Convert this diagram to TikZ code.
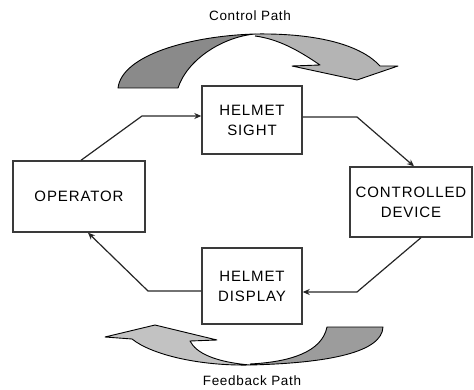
\documentclass[tikz,border=0pt]{standalone}
\usepackage{fontspec}
\setmainfont{Liberation Sans}
\usetikzlibrary{arrows.meta}
\definecolor{boxline}{HTML}{3A3A3A}
\definecolor{darkarr}{HTML}{8A8A8A}
\definecolor{lightarr}{HTML}{B4B4B4}
\definecolor{darkarrb}{HTML}{9C9C9C}
\definecolor{lightarrb}{HTML}{C2C2C2}
\tikzset{
  blk/.style={draw=boxline, line width=1.4pt, fill=white, align=center,
    font=\fontsize{15}{20}\selectfont\addfontfeature{LetterSpace=6}, inner sep=0pt},
  conn/.style={draw=black!85, line width=1.2pt, -{Stealth[length=7pt,width=6pt]}},
  bigarrow/.style={draw=black, line width=0.9pt, line join=round},
  lbl/.style={font=\fontsize{13.5}{16}\selectfont\addfontfeature{LetterSpace=5}, inner sep=0pt}
}
\begin{document}
\begin{tikzpicture}[x=1pt,y=-1pt]
\useasboundingbox (0,0) rectangle (474,390);

% curved arrows
\fill[darkarr] (118,88) .. controls (122,55) and (190,36) .. (255,34)
  .. controls (222,37) and (187,60) .. (178,88) -- cycle;
\draw[bigarrow] (118,88) .. controls (122,55) and (190,36) .. (255,34)
  .. controls (222,37) and (187,60) .. (178,88) -- cycle;
\fill[lightarr] (255,34) .. controls (320,33) and (362,46) .. (380,66)
  -- (398,66) -- (357,80) -- (292,66) -- (320,65)
  .. controls (298,50) and (278,39) .. (255,36) -- cycle;
\draw[bigarrow] (255,34) .. controls (320,33) and (362,46) .. (380,66)
  -- (398,66) -- (357,80) -- (292,66) -- (320,65)
  .. controls (298,50) and (278,39) .. (255,36);

\fill[lightarrb] (132,339) -- (105,337) -- (155,325) -- (217,340) -- (190,341)
  .. controls (196,353) and (215,362) .. (250,365)
  .. controls (200,366) and (152,355) .. (132,339) -- cycle;
\draw[bigarrow] (132,339) -- (105,337) -- (155,325) -- (217,340) -- (190,341)
  .. controls (196,353) and (215,362) .. (250,365)
  .. controls (200,366) and (152,355) .. (132,339) -- cycle;
\fill[darkarrb] (250,365) .. controls (330,363) and (382,352) .. (383,327)
  -- (327,327) .. controls (322,352) and (290,362) .. (250,364) -- cycle;
\draw[bigarrow] (250,365) .. controls (330,363) and (382,352) .. (383,327)
  -- (327,327) .. controls (322,352) and (290,362) .. (250,364);

\node[lbl] (cp) at (250,16) {Control Path};
\node[lbl] (fp) at (252,381) {Feedback Path};

% blocks
\node[blk, minimum width=132pt, minimum height=71pt] (op) at (79,196.5) {OPERATOR};
\node[blk, minimum width=100pt, minimum height=68pt] (sight) at (252,120) {HELMET\\SIGHT};
\node[blk, minimum width=100pt, minimum height=76pt] (disp) at (252,286) {HELMET\\DISPLAY};
\node[blk, minimum width=122pt, minimum height=70pt] (dev) at (411,202) {CONTROLLED\\DEVICE};

% connectors
\coordinate (b1) at (142,116);
\coordinate (b2) at (357,117);
\coordinate (b3) at (357,292);
\coordinate (b4) at (148,291);
\draw[conn] ([xshift=2pt]op.north) -- (b1) -- (sight.west |- b1);
\draw[conn] (sight.east |- b2) -- (b2) -- ([xshift=3pt]dev.north);
\draw[conn] ([xshift=10pt]dev.south) -- (b3) -- (disp.east |- b3);
\draw[conn] (disp.west |- b4) -- (b4) -- ([xshift=9pt]op.south);
\end{tikzpicture}
\end{document}
